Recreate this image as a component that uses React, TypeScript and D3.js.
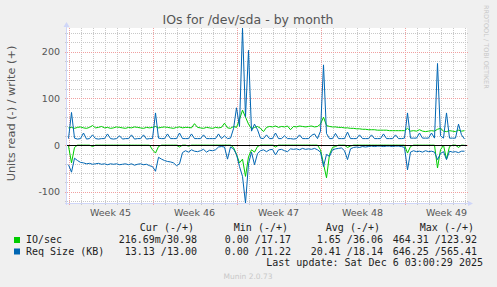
import React from "react"
import * as d3 from "d3"

// 6-hourly samples starting Mon Nov 3 2025 00:00 UTC
const startSample = Date.UTC(2025, 10, 3, 0)
const stepMs = 6 * 3600 * 1000

// IO/sec, write (+)
const writeIo = [
  37, 38, 36, 38, 39, 37, 36, 38, 42, 37, 38, 40, 37, 38, 36, 37, 39, 38, 37, 36, 38, 37, 39, 38, 37, 36, 38, 37,
  38, 40, 37, 38, 39, 38, 37, 36, 38, 39, 37, 38, 38, 37, 46, 38, 37, 36, 38, 37, 36, 38, 37, 38, 47, 37, 36, 40,
  38, 55, 75, 60, 45, 35, 38, 40, 36, 29, 38, 40, 39, 41, 38, 40, 39, 41, 33, 40, 39, 41, 40, 39, 40, 41, 39, 40,
  45, 60, 42, 40, 39, 39, 38, 38, 37, 37, 36, 36, 35, 35, 34, 34, 33, 33, 33, 32, 32, 32, 32, 31, 31, 31, 31, 31,
  31, 36, 30, 31, 30, 33, 30, 29, 30, 31, 30, 34, 36, 30, 29, 31, 30, 29, 32, 30, 31,
]
// IO/sec, read (-)
const readIo = [
  2, 38, 5, 0, 0, 0, 0, 0, 3, 0, 0, 0, 0, 0, 0, 0, 0, 0, 0, 0, 0, 0, 0, 0, 0, 0, 0, 0,
  10, 17, 3, 0, 0, 0, 0, 0, 0, 4, 0, 0, 2, 0, 0, 0, 0, 0, 0, 0, 0, 0, 0, 0, 0, 0, 0, 5,
  20, 38, 30, 67, 25, 10, 15, 3, 0, 0, 0, 0, 0, 4, 0, 0, 0, 0, 0, 0, 0, 0, 0, 0, 0, 0, 0, 0,
  10, 40, 70, 20, 5, 3, 0, 0, 0, 5, 2, 0, 0, 0, 0, 0, 0, 0, 0, 0, 0, 0, 0, 0, 0, 0, 0, 0,
  0, 17, 3, 0, 0, 0, 0, 0, 0, 0, 0, 49, 10, 0, 30, 3, 0, 0, 5, 0, 0.2,
]
// Req size (KB), write (+)
const writeSize = [
  14, 70, 15, 13, 14, 26, 13, 14, 22, 14, 13, 14, 14, 24, 14, 13, 14, 20, 13, 14, 14, 22, 13, 14, 14, 22, 13, 14,
  14, 69, 15, 14, 14, 24, 14, 14, 14, 26, 14, 14, 14, 24, 14, 14, 14, 22, 14, 14, 14, 14, 24, 14, 20, 14, 15, 35,
  80, 40, 251, 60, 203, 30, 45, 33, 15, 14, 22, 14, 14, 26, 14, 14, 20, 14, 14, 13, 14, 22, 14, 14, 14, 21, 24, 14,
  30, 172, 25, 14, 14, 25, 14, 14, 14, 28, 14, 14, 14, 22, 14, 14, 14, 22, 14, 14, 14, 24, 14, 14, 14, 22, 14, 14,
  15, 69, 15, 15, 15, 26, 15, 15, 15, 26, 15, 175, 20, 15, 69, 15, 15, 15, 45, 22, 13,
]
// Req size (KB), read (-)
const readSize = [
  42, 58, 28, 33, 37, 38, 40, 39, 41, 40, 39, 41, 40, 42, 40, 41, 40, 42, 41, 40, 42, 40, 43, 41, 40, 42, 41, 44,
  46, 56, 26, 30, 33, 35, 36, 38, 44, 40, 16, 12, 15, 10, 13, 14, 12, 9, 15, 11, 12, 10, 4, 3, 4, 30, 4, 8,
  20, 46, 67, 124, 40, 15, 42, 18, 12, 10, 14, 10, 9, 21, 10, 9, 12, 14, 8, 9, 8, 10, 7, 9, 8, 9, 7, 10,
  15, 46, 20, 24, 10, 8, 7, 6, 12, 31, 8, 5, 4, 5, 3, 4, 3, 2, 3, 2, 2, 3, 2, 2, 3, 2, 2, 3,
  5, 53, 15, 12, 14, 13, 15, 12, 14, 13, 15, 31, 18, 14, 31, 13, 15, 14, 16, 13, 13,
]

const yTicks = [-100, 0, 100, 200]
const weekStarts = [
  Date.UTC(2025, 10, 3),
  Date.UTC(2025, 10, 10),
  Date.UTC(2025, 10, 17),
  Date.UTC(2025, 10, 24),
  Date.UTC(2025, 11, 1),
]

const legendRows = [
  { name: "IO/sec", color: "#00cc00", cur: "216.69m/30.98", min: "0.00 /17.17", avg: "1.65 /36.06", max: "464.31 /123.92" },
  { name: "Req Size (KB)", color: "#0066b3", cur: "13.13 /13.00", min: "0.00 /11.22", avg: "20.41 /18.14", max: "646.25 /565.41" },
]

const W = 497
const H = 287
const left = 67
const right = 467
const top = 28
const bottom = 203
const grey = "#555"
const mono = "'DejaVu Sans Mono', monospace"
const sans = "'DejaVu Sans', sans-serif"

export default function App() {
  const times = writeIo.map((_, i) => new Date(startSample + i * stepMs))
  const x = d3
    .scaleUtc()
    .domain([new Date(Date.UTC(2025, 10, 2, 21)), new Date(Date.UTC(2025, 11, 6, 5))])
    .range([left, right])
  const y = d3.scaleLinear().domain([-124, 251]).range([bottom, top])

  const line = (vals: number[], sign: number) =>
    d3
      .line<number>()
      .x((d, i) => x(times[i]))
      .y((d) => y(sign * d))(vals) || ""

  const days = d3.utcDay.range(new Date(Date.UTC(2025, 10, 3)), x.domain()[1] as Date)
  const minorY = d3.range(-120, 251, 20).filter((v) => v % 100 !== 0)
  const weekFmt = d3.utcFormat("%V")

  const cols = [
    { key: "cur", head: "Cur (-/+)", end: 197 },
    { key: "min", head: "Min (-/+)", end: 291 },
    { key: "avg", head: "Avg (-/+)", end: 383 },
    { key: "max", head: "Max (-/+)", end: 477 },
  ]

  return (
    <svg width={W} height={H} style={{ position: "absolute", left: 0, top: 0 }}>
      <rect width={W} height={H} fill="#f0f0f0" />
      <rect x={left} y={top} width={right - left} height={bottom - top} fill="#fff" />

      {/* minor grid */}
      <g stroke="#c8c8c8" strokeWidth={1} strokeDasharray="1,1" shapeRendering="crispEdges">
        {minorY.map((v) => (
          <line key={v} x1={left - 2} x2={right + 2} y1={Math.round(y(v)) + 0.5} y2={Math.round(y(v)) + 0.5} />
        ))}
        {days
          .filter((d) => d.getUTCDay() !== 1)
          .map((d) => (
            <line key={+d} x1={Math.round(x(d)) + 0.5} x2={Math.round(x(d)) + 0.5} y1={top} y2={bottom + 2} />
          ))}
      </g>
      {/* major grid */}
      <g stroke="#f0a0a0" strokeWidth={1} strokeDasharray="1,1" shapeRendering="crispEdges">
        {yTicks.map((v) => (
          <line key={v} x1={left - 2} x2={right + 2} y1={Math.round(y(v)) + 0.5} y2={Math.round(y(v)) + 0.5} />
        ))}
        {weekStarts.map((d) => (
          <line key={d} x1={Math.round(x(new Date(d))) + 0.5} x2={Math.round(x(new Date(d))) + 0.5} y1={top} y2={bottom + 2} />
        ))}
      </g>

      {/* axes */}
      <g stroke="#cfd6f8" shapeRendering="crispEdges">
        <line x1={left - 0.5} x2={left - 0.5} y1={top - 2} y2={bottom + 2} />
        <line x1={left - 2} x2={right + 3} y1={bottom + 0.5} y2={bottom + 0.5} />
      </g>
      <path d={`M${left - 3.5},${top - 1}L${left + 2.5},${top - 1}L${left - 0.5},${top - 6}Z`} fill="#cfd6f8" />
      <path d={`M${right + 1},${bottom - 2}L${right + 1},${bottom + 3}L${right + 6},${bottom + 0.5}Z`} fill="#cfd6f8" />

      {/* series */}
      <g fill="none" strokeWidth={1}>
        <path d={line(readIo, -1)} stroke="#00cc00" />
        <path d={line(writeIo, 1)} stroke="#00cc00" />
        <path d={line(readSize, -1)} stroke="#0066b3" />
        <path d={line(writeSize, 1)} stroke="#0066b3" />
      </g>
      <line x1={left} x2={right} y1={Math.round(y(0)) + 0.5} y2={Math.round(y(0)) + 0.5} stroke="#000" shapeRendering="crispEdges" />

      {/* y tick labels */}
      {yTicks.map((v) => (
        <text key={v} x={60} y={y(v) + 3.5} textAnchor="end" fontFamily={sans} fontSize={9.5} fill={grey}>
          {String(v)}
        </text>
      ))}
      {/* week labels */}
      {weekStarts.map((d) => (
        <text
          key={d}
          x={x(new Date(d + 3.5 * 86400000))}
          y={216}
          textAnchor="middle"
          fontFamily={sans}
          fontSize={9.5}
          fill={grey}
        >
          {"Week " + weekFmt(new Date(d))}
        </text>
      ))}

      {/* titles */}
      <text x={248} y={24} textAnchor="middle" fontFamily={sans} fontSize={12.5} fill={grey}>
        IOs for /dev/sda - by month
      </text>
      <text
        transform="translate(14.5,113.5) rotate(-90)"
        textAnchor="middle"
        fontFamily={sans}
        fontSize={11.3}
        fill={grey}
      >
        Units read (-) / write (+)
      </text>
      <text transform="translate(484,5) rotate(90)" fontFamily={sans} fontSize={6.5} fill="#c8c8c8">
        RRDTOOL / TOBI OETIKER
      </text>

      {/* legend */}
      <g fontFamily={mono} fontSize={10} fill="#222" style={{ whiteSpace: "pre" }}>
        {cols.map((c) => (
          <text key={c.key} x={c.end - 3} y={231} textAnchor="end">
            {c.head}
          </text>
        ))}
        {legendRows.map((r, ri) => {
          const by = 243 + ri * 11.5
          return (
            <g key={r.name}>
              <rect x={14} y={by - 6} width={6} height={6} fill={r.color} />
              <text x={26} y={by}>
                {r.name}
              </text>
              {cols.map((c) => (
                <text key={c.key} x={c.end} y={by} textAnchor="end">
                  {(r as any)[c.key]}
                </text>
              ))}
            </g>
          )
        })}
        <text x={483} y={266} textAnchor="end">
          {"Last update: Sat Dec  6 03:00:29 2025"}
        </text>
      </g>
      <text x={248} y={279} textAnchor="middle" fontFamily={sans} fontSize={7.5} fill="#c8c8c8">
        Munin 2.0.73
      </text>
    </svg>
  )
}
